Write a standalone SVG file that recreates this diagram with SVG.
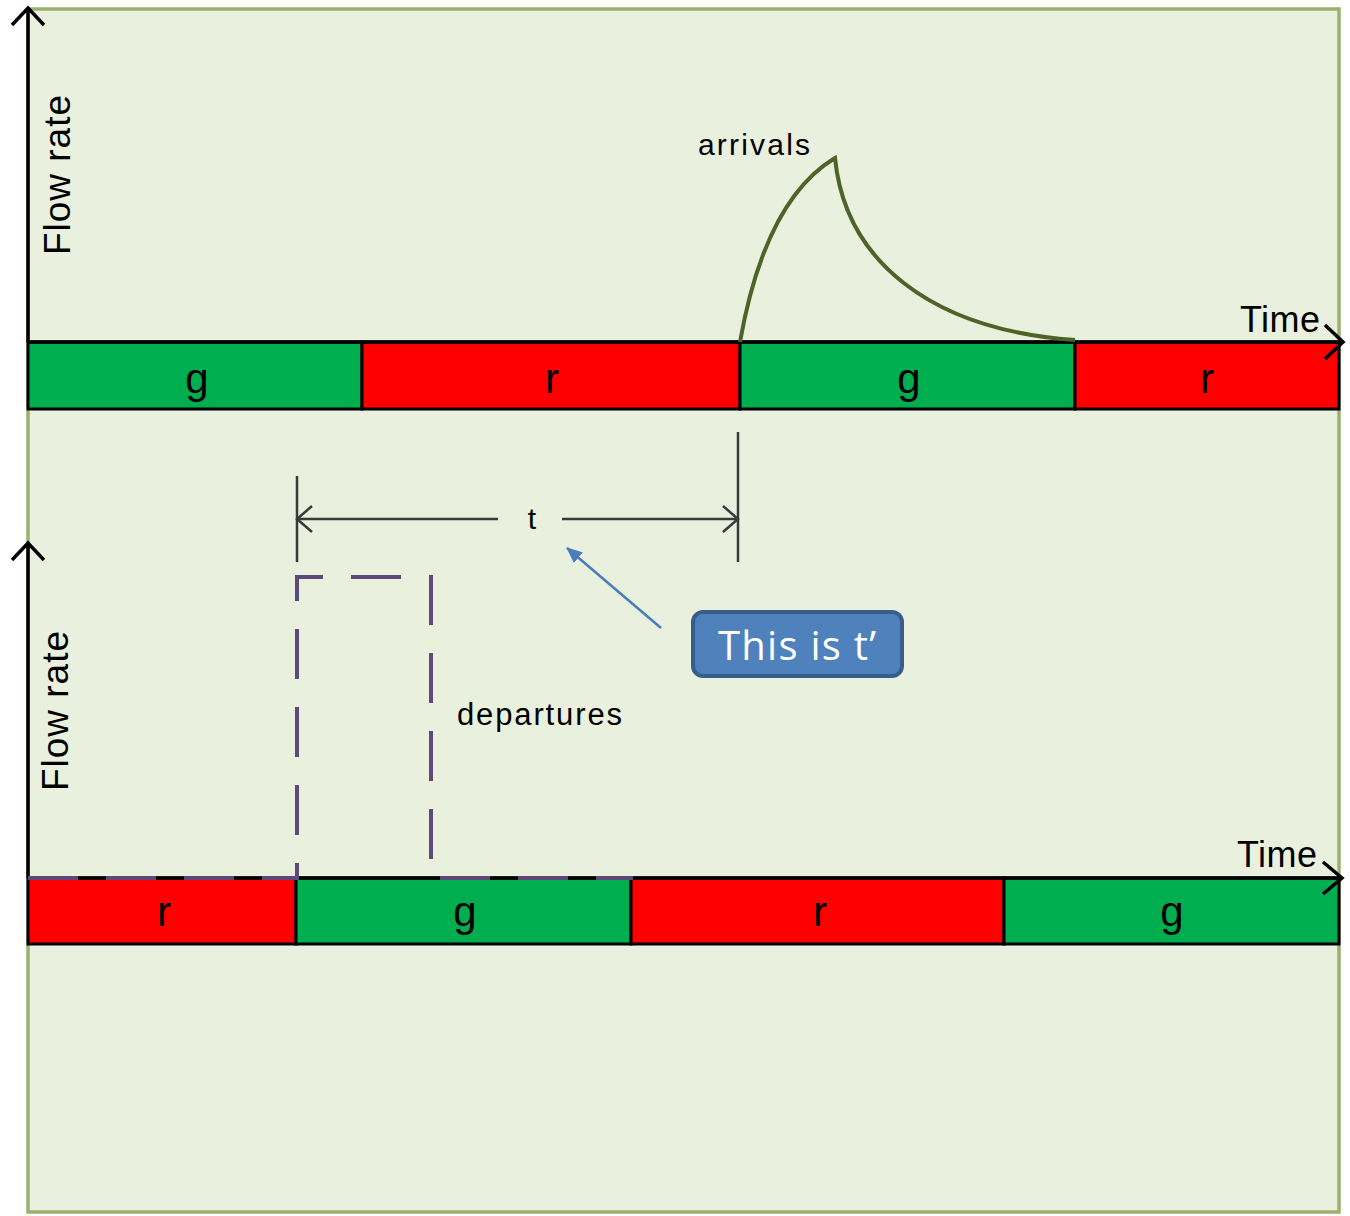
<svg xmlns="http://www.w3.org/2000/svg" width="1350" height="1216" viewBox="0 0 1350 1216">
<style>
.bar{stroke:#000;stroke-width:3}
.g{fill:#00AE50}
.r{fill:#FF0000}
.lbl{font-family:"Liberation Sans",Arial,sans-serif;font-size:42px;fill:#000;text-anchor:middle}
.txt{font-family:"Liberation Sans",Arial,sans-serif;fill:#000}
.axis{stroke:#000;stroke-width:3.5;fill:none}
.dim{stroke:#3a3a3a;stroke-width:2.5;fill:none}
</style>
<defs>
<marker id="blueHead" markerWidth="16" markerHeight="14" refX="15" refY="7" orient="auto" markerUnits="userSpaceOnUse" viewBox="0 0 16 14">
<path d="M0,0 L16,7 L0,14 z" fill="#4A7EBB"/>
</marker>
</defs>
<rect x="0" y="0" width="1350" height="1216" fill="#FFFFFF"/>
<rect id="panel" x="28" y="9" width="1311" height="1203" fill="#E9F0DE" stroke="#9BAF6E" stroke-width="3.5"/>

<g id="top-bar">
<rect class="bar g" x="28" y="342" width="334" height="67"/>
<rect class="bar r" x="362" y="342" width="378" height="67"/>
<rect class="bar g" x="740" y="342" width="335" height="67"/>
<rect class="bar r" x="1075" y="342" width="264" height="67"/>
<text class="lbl" x="197" y="393">g</text>
<text class="lbl" x="552" y="393">r</text>
<text class="lbl" x="909" y="393">g</text>
<text class="lbl" x="1207" y="393">r</text>
</g>

<g id="bottom-bar">
<rect class="bar r" x="28" y="878" width="268" height="66"/>
<rect class="bar g" x="296" y="878" width="335" height="66"/>
<rect class="bar r" x="631" y="878" width="373" height="66"/>
<rect class="bar g" x="1004" y="878" width="335" height="66"/>
<text class="lbl" x="164" y="926">r</text>
<text class="lbl" x="465" y="926">g</text>
<text class="lbl" x="820" y="926">r</text>
<text class="lbl" x="1172" y="926">g</text>
</g>

<g id="top-axes">
<path class="axis" d="M28,342 V8 M12,25 L28,8 L44,25"/>
<path class="axis" d="M28,342 H1342 M1325,325 L1343,342 L1325,359"/>
<text class="txt" x="1240" y="332" font-size="36" textLength="80">Time</text>
<text class="txt" transform="translate(70,255) rotate(-90)" font-size="37" textLength="160">Flow rate</text>
</g>

<g id="bottom-axes">
<path class="axis" d="M28,878 V543 M12,560 L28,543 L44,560"/>
<path class="axis" d="M28,878 H1342 M1323,862 L1342,878 L1323,894"/>
<text class="txt" x="1237" y="867" font-size="36" textLength="80">Time</text>
<text class="txt" transform="translate(68,791) rotate(-90)" font-size="37" textLength="160">Flow rate</text>
</g>

<g id="arrivals">
<path d="M740,342 Q765,200 835,158 C845,260 930,330 1075,340" fill="none" stroke="#4F6228" stroke-width="4"/>
<text class="txt" x="698" y="155" font-size="30" textLength="112">arrivals</text>
</g>

<g id="departures">
<path d="M28,878 H297 V577 H431 V878 H633" fill="none" stroke="#5F497A" stroke-width="4" stroke-dasharray="50 28"/>
<text class="txt" x="457" y="725" font-size="31" textLength="165">departures</text>
</g>

<g id="dimension">
<path class="dim" d="M297,476 V562 M738,432 V562"/>
<path class="dim" d="M297,519 H498 M562,519 H738"/>
<path class="dim" d="M312,506 L297,519 L312,532 M723,506 L738,519 L723,532"/>
<text class="txt" x="532" y="529" font-size="30" text-anchor="middle">t</text>
</g>

<g id="callout">
<rect x="693" y="612" width="209" height="64" rx="10" fill="#4F81BD" stroke="#385D8A" stroke-width="4"/>
<text x="797" y="660" font-family="'Open Sans','Liberation Sans',sans-serif" font-size="40" fill="#FFFFFF" text-anchor="middle" textLength="158">This is t’</text>
</g>

<g id="connectors">
<line x1="661" y1="628" x2="567" y2="548" stroke="#4A7EBB" stroke-width="2.5" marker-end="url(#blueHead)"/>
</g>
</svg>
